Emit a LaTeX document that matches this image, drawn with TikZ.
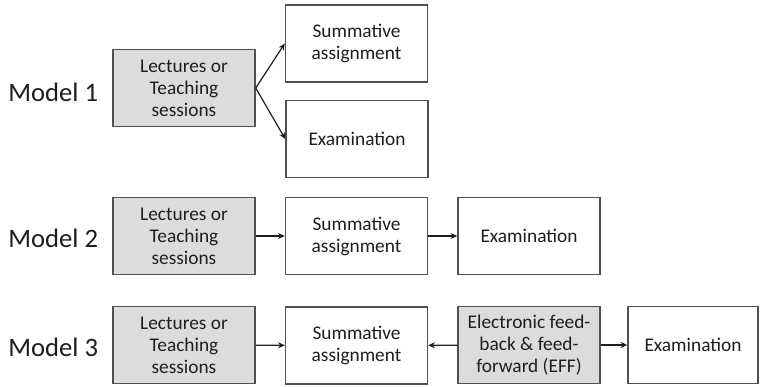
\documentclass[tikz,border=0pt]{standalone}
\usepackage{fontspec}
\setmainfont{Carlito}
\usetikzlibrary{arrows.meta}
\definecolor{boxline}{HTML}{505050}
\definecolor{boxfill}{HTML}{DCDCDC}
\definecolor{txt}{HTML}{1E1E1E}
\begin{document}
\begin{tikzpicture}[x=0.75pt,y=-0.75pt,
  box/.style={draw=boxline,line width=1.1pt,fill=white,minimum width=106.5pt,minimum height=58pt,
    align=center,inner sep=0pt,font=\fontsize{14.5}{16.5}\selectfont,text=txt},
  graybox/.style={box,fill=boxfill},
  modellabel/.style={anchor=west,font=\fontsize{20}{24}\selectfont,text=txt,inner sep=0pt},
  conn/.style={draw=txt,line width=0.9pt,-{Stealth[length=5pt,width=4.5pt]}}]
\useasboundingbox (0,0) rectangle (760,386);
% Model 1
\node[modellabel] (m1) at (8,92) {Model 1};
\node[graybox] (l1) at (184,88) {Lectures or\\Teaching\\sessions};
\node[box] (s1) at (356.5,43.5) {Summative\\assignment};
\node[box] (e1) at (357,139) {Examination};
\draw[conn] (l1.east) -- (s1.west);
\draw[conn] (l1.east) -- (e1.west);
% Model 2
\node[modellabel] (m2) at (8,238) {Model 2};
\node[graybox] (l2) at (184,236) {Lectures or\\Teaching\\sessions};
\node[box] (s2) at (356.5,236) {Summative\\assignment};
\node[box] (e2) at (529,236) {Examination};
\draw[conn] (l2) -- (s2);
\draw[conn] (s2) -- (e2);
% Model 3
\node[modellabel] (m3) at (8,347) {Model 3};
\node[graybox] (l3) at (184,345) {Lectures or\\Teaching\\sessions};
\node[box] (s3) at (356.5,345.5) {Summative\\assignment};
\node[graybox] (f3) at (529,345) {Electronic feed-\\back \& feed-\\forward (EFF)};
\node[box,minimum width=97.5pt] (e3) at (693,345) {Examination};
\draw[conn] (l3) -- (s3);
\draw[conn] (f3) -- (s3);
\draw[conn] (f3) -- (e3);
\end{tikzpicture}
\end{document}
